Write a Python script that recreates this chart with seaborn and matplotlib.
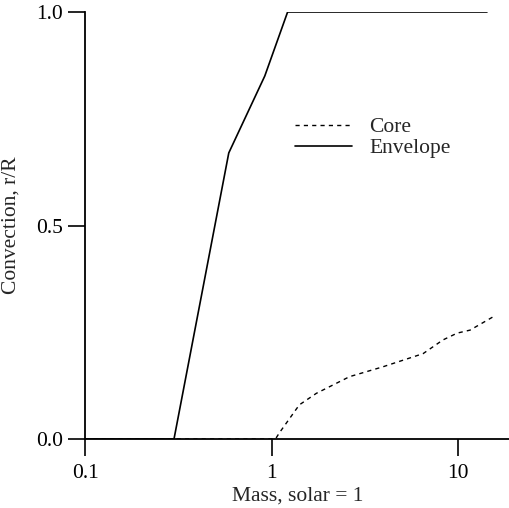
import matplotlib
matplotlib.use("Agg")
import matplotlib.pyplot as plt
import seaborn as sns
import pandas as pd

# Data
env_mass = [0.1, 0.30, 0.59, 0.92, 1.22, 14.3]
env_r = [0.0, 0.0, 0.67, 0.85, 1.0, 1.0]

core_mass = [0.1, 1.05, 1.10, 1.41, 1.74, 2.62, 3.95, 6.5, 8.3, 9.9, 11.6, 15.4]
core_r = [0.0, 0.0, 0.014, 0.08, 0.107, 0.146, 0.169, 0.20, 0.232, 0.248, 0.255, 0.286]

xticks = [0.1, 1, 10]
xticklabels = ["0.1", "1", "10"]
yticks = [0.0, 0.5, 1.0]
yticklabels = ["0.0", "0.5", "1.0"]

sns.set_style("ticks")
plt.rcParams["font.family"] = ["Liberation Serif", "DejaVu Serif"]

FS = 15.5

fig = plt.figure(figsize=(5.10, 5.08), dpi=100)
ax = fig.add_axes([0.1667, 0.1358, 0.8333, 0.8406])

env_df = pd.DataFrame({"mass": env_mass, "r": env_r})
core_df = pd.DataFrame({"mass": core_mass, "r": core_r})

sns.lineplot(data=core_df, x="mass", y="r", ax=ax, color="black",
             linewidth=1.0, linestyle=(0, (3, 3)), label="Core",
             estimator=None, sort=False)
sns.lineplot(data=env_df, x="mass", y="r", ax=ax, color="black",
             linewidth=1.2, label="Envelope", estimator=None, sort=False)

ax.set_xscale("log")
ax.set_xlim(0.1, 19)
ax.set_ylim(0, 1.0)
ax.set_xticks(xticks)
ax.set_xticklabels(xticklabels)
ax.set_yticks(yticks)
ax.set_yticklabels(yticklabels)
ax.minorticks_off()
ax.tick_params(axis="both", direction="out", length=12, width=1.2,
               labelsize=FS, color="black", labelcolor="black")
ax.tick_params(axis="x", pad=6)
ax.tick_params(axis="y", pad=4)
for s in ["top", "right"]:
    ax.spines[s].set_visible(False)
for s in ["left", "bottom"]:
    ax.spines[s].set_linewidth(1.3)
    ax.spines[s].set_color("black")
ax.spines["left"].set_zorder(3)

ax.set_xlabel("Mass, solar = 1", fontsize=FS)
ax.set_ylabel("Convection, r/R", fontsize=FS)
ax.xaxis.set_label_coords(0.5, -0.112)
ax.yaxis.set_label_coords(-0.152, 0.50)

leg = ax.legend(loc="upper left", bbox_to_anchor=(0.494, 0.754),
                frameon=False, fontsize=FS, handlelength=2.65,
                handletextpad=0.8, labelspacing=0.05, borderpad=0,
                borderaxespad=0)

fig.savefig("out.png", dpi=100)
